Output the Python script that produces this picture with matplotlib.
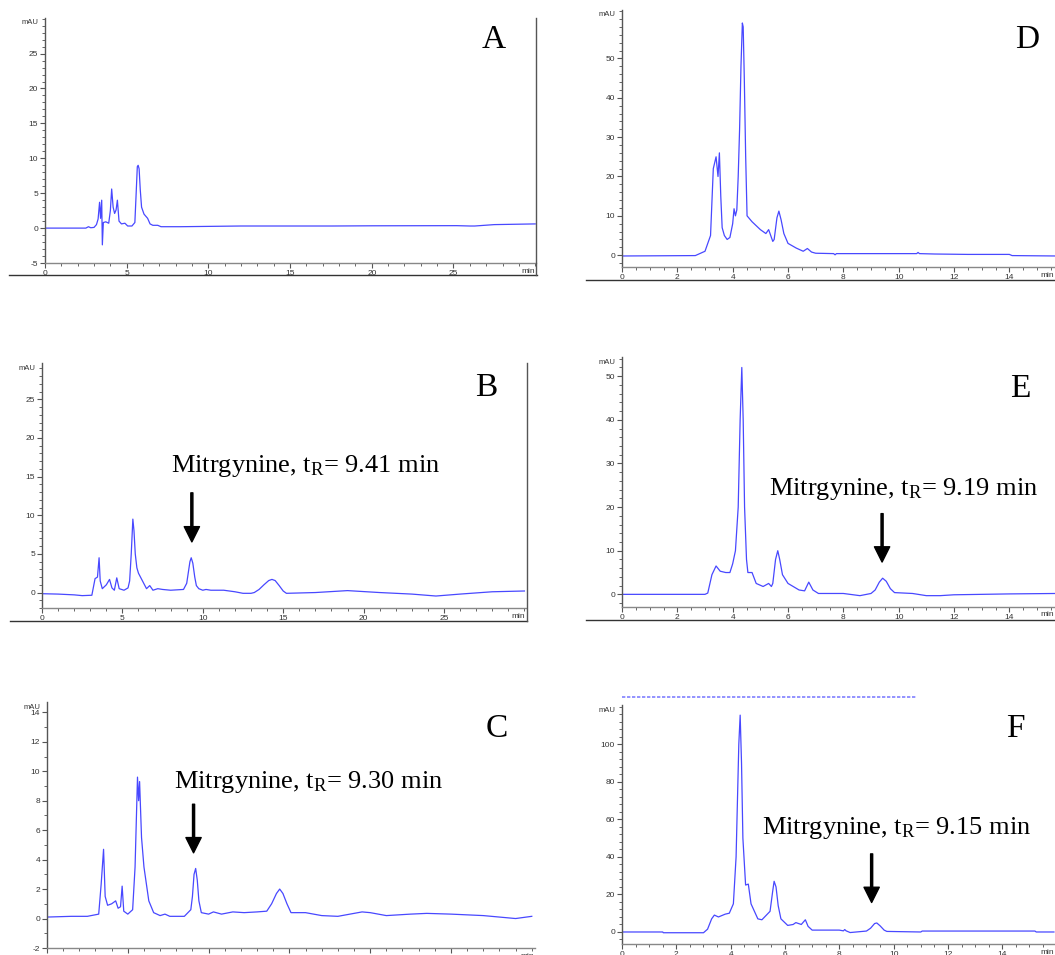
import matplotlib
matplotlib.use('Agg')
import matplotlib.pyplot as plt
from matplotlib.lines import Line2D
from matplotlib.ticker import MultipleLocator, FixedLocator

plt.rcParams['mathtext.fontset'] = 'custom'
plt.rcParams['mathtext.rm'] = 'Liberation Serif'
plt.rcParams['mathtext.it'] = 'Liberation Serif:italic'
plt.rcParams['font.family'] = ['Liberation Sans', 'DejaVu Sans']

W, H = 1055, 955

# ---------------- data (time in min, absorbance in mAU) ----------------
a_t = [0, 2.5, 2.66, 2.8, 3.0, 3.15, 3.25, 3.34, 3.4, 3.47, 3.51, 3.57, 3.72, 3.9, 4.0, 4.08,
       4.17, 4.26, 4.35, 4.43, 4.53, 4.68, 4.89, 5.06, 5.32, 5.5, 5.57, 5.65, 5.7, 5.76,
       5.83, 5.91, 6.06, 6.28, 6.43, 6.6, 6.9, 7.1, 8.3, 12, 17.6, 20, 25.2, 26.0, 26.3,
       27.5, 30]
a_v = [0, 0, 0.2, 0.05, 0.1, 0.5, 1.3, 3.7, 1.4, 4.0, -2.4, 0.8, 0.9, 0.7, 2.5, 5.6,
       3.0, 2.1, 2.6, 4.0, 1.0, 0.6, 0.7, 0.3, 0.3, 0.8, 4.5, 8.8, 9.0, 8.5,
       5.5, 3.0, 2.0, 1.4, 0.6, 0.4, 0.4, 0.2, 0.2, 0.3, 0.3, 0.33, 0.35, 0.3, 0.3,
       0.5, 0.6]

b_t = [0, 1.0, 2.0, 2.5, 3.1, 3.3, 3.45, 3.55, 3.62, 3.75, 4.0, 4.2, 4.35, 4.5, 4.65, 4.8,
       5.1, 5.35, 5.45, 5.55, 5.65, 5.72, 5.8, 5.9, 6.0, 6.3, 6.5, 6.7, 6.9, 7.2, 7.5, 8.0,
       8.8, 9.0, 9.1, 9.2, 9.28, 9.38, 9.5, 9.6, 9.75, 10.0, 10.2, 10.5, 11.3, 12.0, 12.5,
       13.0, 13.2, 13.5, 13.8, 14.1, 14.3, 14.5, 14.75, 15.0, 15.2, 17.0, 19.0, 21.0,
       23.0, 24.5, 26.0, 28.0, 30.0]
b_v = [-0.15, -0.2, -0.3, -0.4, -0.35, 1.8, 2.0, 4.5, 1.5, 0.5, 1.0, 1.7, 0.6, 0.3, 1.9, 0.5,
       0.3, 0.6, 1.5, 5.0, 9.5, 8.0, 5.0, 3.2, 2.5, 1.3, 0.5, 0.9, 0.3, 0.5, 0.4, 0.3,
       0.4, 1.2, 2.6, 4.0, 4.5, 3.8, 2.0, 0.9, 0.5, 0.3, 0.4, 0.3, 0.3, 0.1, -0.1,
       -0.1, 0.0, 0.4, 1.0, 1.55, 1.7, 1.55, 0.9, 0.2, -0.1, 0.0, 0.25, 0.0,
       -0.2, -0.45, -0.2, 0.1, 0.2]

c_t = [0, 1.5, 2.5, 3.2, 3.35, 3.5, 3.6, 3.75, 4.0, 4.25, 4.4, 4.55, 4.65, 4.75, 5.0, 5.3,
       5.45, 5.6, 5.67, 5.73, 5.85, 6.0, 6.3, 6.6, 7.0, 7.3, 7.6, 8.5, 8.9, 9.0, 9.1, 9.2,
       9.3, 9.4, 9.55, 10.0, 10.3, 10.8, 11.5, 12.2, 13.0, 13.6, 13.9, 14.2, 14.4, 14.6,
       14.85, 15.1, 16.0, 17.0, 18.0, 19.0, 19.5, 20.0, 21.0, 22.5, 23.5, 25.0, 27.0,
       29.0, 30.0]
c_v = [0.1, 0.15, 0.15, 0.3, 2.3, 4.7, 1.5, 0.9, 1.0, 1.2, 0.7, 0.8, 2.2, 0.5, 0.3, 0.6,
       3.5, 9.6, 8.0, 9.3, 5.5, 3.5, 1.2, 0.4, 0.2, 0.3, 0.15, 0.15, 0.6, 1.5, 3.0, 3.4,
       2.6, 1.2, 0.4, 0.3, 0.45, 0.3, 0.45, 0.4, 0.45, 0.5, 1.0, 1.7, 2.0, 1.7,
       1.0, 0.4, 0.4, 0.2, 0.15, 0.35, 0.45, 0.4, 0.2, 0.3, 0.35, 0.3, 0.2,
       0.0, 0.15]

d_t = [0, 2.65, 3.0, 3.2, 3.3, 3.4, 3.47, 3.52, 3.57, 3.62, 3.7, 3.8, 3.9, 4.0, 4.05, 4.1,
       4.15, 4.2, 4.25, 4.3, 4.35, 4.38, 4.42, 4.47, 4.52, 4.7, 5.0, 5.2, 5.3, 5.45, 5.5,
       5.6, 5.67, 5.75, 5.85, 6.0, 6.3, 6.55, 6.7, 6.85, 7.0, 7.65, 7.7, 7.75, 10.0, 10.65,
       10.7, 10.75, 11.3, 12.5, 14.0, 14.1, 15.7]
d_v = [-0.2, -0.1, 1.0, 5.0, 22, 25, 20, 26, 15, 7, 5, 4.0, 4.5, 8.0, 11.8, 10.0,
       11.5, 20, 32, 48, 59, 58, 45, 25, 10, 8.5, 6.5, 5.5, 6.5, 3.5, 4.0,
       9.5, 11.2, 9.0, 5.5, 3.0, 1.8, 1.0, 1.7, 0.8, 0.5, 0.4, 0.1, 0.4, 0.4, 0.4,
       0.7, 0.4, 0.3, 0.2, 0.2, -0.1, -0.2]

e_t = [0, 2.0, 3.0, 3.1, 3.25, 3.4, 3.55, 3.75, 3.9, 4.0, 4.1, 4.2, 4.27, 4.33, 4.38, 4.43,
       4.5, 4.55, 4.7, 4.85, 5.1, 5.3, 5.4, 5.45, 5.55, 5.63, 5.7, 5.8, 6.0, 6.4, 6.6, 6.75,
       6.9, 7.1, 8.0, 8.6, 9.0, 9.15, 9.3, 9.42, 9.55, 9.7, 9.85, 10.5, 11.0, 11.5, 12.0,
       14.0, 15.7]
e_v = [0, 0, 0, 0.3, 4.5, 6.5, 5.3, 5.0, 5.0, 7.0, 10, 20, 40, 52, 40, 20,
       8, 5, 5.0, 2.5, 1.8, 2.5, 1.8, 2.5, 8, 10, 8, 4.5, 2.5, 1.0, 0.8, 2.8,
       1.0, 0.2, 0.2, -0.3, 0.2, 1.0, 2.8, 3.7, 3.0, 1.3, 0.4, 0.2, -0.3, -0.3, -0.1,
       0.1, 0.2]

f_t = [0, 1.5, 1.52, 3.0, 3.15, 3.3, 3.4, 3.55, 3.8, 3.95, 4.1, 4.2, 4.3, 4.35, 4.4, 4.45,
       4.55, 4.65, 4.75, 5.0, 5.15, 5.35, 5.45, 5.55, 5.6, 5.67, 5.75, 5.85, 6.1, 6.3, 6.4,
       6.6, 6.75, 6.85, 7.0, 8.0, 8.15, 8.2, 8.25, 8.4, 9.0, 9.15, 9.3, 9.38, 9.5, 9.65,
       9.75, 11.0, 11.05, 15.2, 15.25, 15.9]
f_v = [0, 0, -0.4, -0.4, 1.5, 7, 9.0, 8, 9.5, 10, 15, 40, 100, 115.5, 90, 50,
       25, 25.5, 15, 7, 6.5, 9.5, 11, 22, 27, 24, 14, 7, 3.5, 4, 5,
       4, 6.5, 3, 1, 1.0, 0.6, 1.3, 0.6, -0.3, 0.5, 2.0, 4.5, 4.8, 3.3, 1.0,
       0.3, 0.0, 0.5, 0.5, 0.0, 0.0]

panel_letters = ['A', 'B', 'C', 'D', 'E', 'F']
ticks_x_long = [0, 5, 10, 15, 20, 25]
ticks_x_short = [0, 2, 4, 6, 8, 10, 12, 14]
ticks_y_a = [-5, 0, 5, 10, 15, 20, 25]
ticks_y_b = [0, 5, 10, 15, 20, 25]
ticks_y_c = [-2, 0, 2, 4, 6, 8, 10, 12, 14]
ticks_y_d = [0, 10, 20, 30, 40, 50]
ticks_y_e = [0, 10, 20, 30, 40, 50]
ticks_y_f = [0, 20, 40, 60, 80, 100]
label_b = 'Mitrgynine, t$_{\\mathrm{R}}$= 9.41 min'
label_c = 'Mitrgynine, t$_{\\mathrm{R}}$= 9.30 min'
label_e = 'Mitrgynine, t$_{\\mathrm{R}}$= 9.19 min'
label_f = 'Mitrgynine, t$_{\\mathrm{R}}$= 9.15 min'

# ---------------- figure ----------------
fig = plt.figure(figsize=(W / 100, H / 100), dpi=100)
fig.patch.set_facecolor('white')

LINE = '#4848ff'


def fx(x):
    return x / W


def fy(y):
    return 1 - y / H


def make_panel(l, r, t, b, tt, vv, xlim, ylim, xt, xminor, yt, yminor):
    ax = fig.add_axes([fx(l), fy(b), (r - l) / W, (b - t) / H])
    ax.plot(tt, vv, color=LINE, lw=0.9)
    ax.set_xlim(*xlim)
    ax.set_ylim(*ylim)
    for s in ['top', 'right']:
        ax.spines[s].set_visible(False)
    ax.spines['left'].set_color('#555555')
    ax.spines['bottom'].set_color('#888888')
    ax.spines['left'].set_linewidth(1.0)
    ax.spines['bottom'].set_linewidth(1.0)
    ax.xaxis.set_major_locator(FixedLocator(xt))
    ax.xaxis.set_minor_locator(MultipleLocator(xminor))
    ax.yaxis.set_major_locator(FixedLocator(yt))
    ax.yaxis.set_minor_locator(MultipleLocator(yminor))
    ax.set_xticklabels([str(v) for v in xt])
    ax.set_yticklabels([str(v) for v in yt])
    ax.tick_params(which='major', direction='out', length=3.5, width=0.8,
                   colors='#555555', labelcolor='#333333', labelsize=6, pad=1.5)
    ax.tick_params(which='minor', direction='out', length=2, width=0.7, colors='#666666')
    ax.patch.set_alpha(0)
    # unit labels
    fig.text(fx(l - 7), fy(t + 5), 'mAU', fontsize=5.5, color='#333333',
             ha='right', va='center')
    fig.text(fx(r - 1), fy(b + 8), 'min', fontsize=6, color='#333333',
             ha='right', va='center')
    return ax


axA = make_panel(45, 536, 18, 263, a_t, a_v, (0, 30.05), (-5, 30.1),
                 ticks_x_long, 1, ticks_y_a, 1)
axB = make_panel(42, 526, 363, 608, b_t, b_v, (0, 30.1), (-2.0, 29.7),
                 ticks_x_long, 1, ticks_y_b, 1)
axC = make_panel(47, 535, 702, 948, c_t, c_v, (0, 30.2), (-2.0, 14.7),
                 ticks_x_long, 1, ticks_y_c, 1)
axD = make_panel(622, 1055, 10, 267, d_t, d_v, (0, 15.65), (-3.0, 62.3),
                 ticks_x_short, 0.5, ticks_y_d, 2)
axE = make_panel(622, 1055, 357, 607, e_t, e_v, (0, 15.65), (-2.9, 54.4),
                 ticks_x_short, 0.5, ticks_y_e, 2)
axF = make_panel(622, 1055, 705, 944, f_t, f_v, (0, 15.94), (-6.4, 120.9),
                 ticks_x_short, 0.5, ticks_y_f, 4)


# ---------------- frame decorations ----------------
def fig_line(x0, y0, x1, y1, color='#333333', lw=1.0, ls='-'):
    fig.add_artist(Line2D([fx(x0), fx(x1)], [fy(y0), fy(y1)], color=color, lw=lw, ls=ls))


fig_line(9, 275, 537, 275)
fig_line(536, 18, 536, 275, color='#555555')
fig_line(10, 621, 527, 621)
fig_line(527, 363, 527, 621, color='#555555')
fig_line(586, 280, 1055, 280)
fig_line(586, 620, 1055, 620)
fig_line(622, 697, 917, 697, color='#8080ff', lw=1.2, ls=(0, (2, 1)))

# ---------------- panel letters ----------------
letter_pos = [(482, 48), (475, 396), (486, 737), (1015, 48), (1010, 397), (1006, 737)]
for letter, (px, py) in zip(panel_letters, letter_pos):
    fig.text(fx(px), fy(py), letter, fontsize=24, family='Liberation Serif',
             ha='left', va='baseline', color='black')

# ---------------- annotations ----------------
arrow_kw = dict(facecolor='black', edgecolor='black', width=1.5, headwidth=11,
                headlength=11, shrink=0)

for ax, lab, tx, ty, ax_x, tip, tail in [
        (axB, label_b, 8.03, 15.6, 9.32, 6.55, 12.9),
        (axC, label_c, 7.88, 8.84, 9.07, 4.46, 7.76),
        (axE, label_e, 5.32, 22.7, 9.40, 7.4, 18.5),
        (axF, label_f, 5.14, 52.3, 9.19, 15.7, 41.6)]:
    ax.text(tx, ty, lab, fontsize=19, family='Liberation Serif', ha='left',
            va='baseline', color='black')
    ax.annotate('', xy=(ax_x, tip), xytext=(ax_x, tail), arrowprops=arrow_kw)

fig.savefig('out.png', dpi=100, facecolor='white')
